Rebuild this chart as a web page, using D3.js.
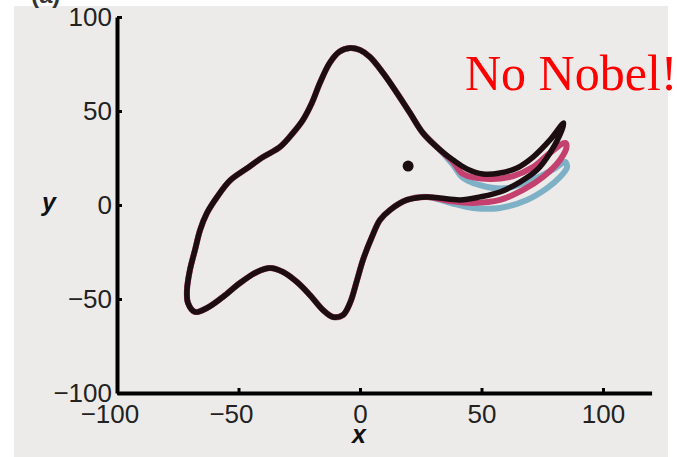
<!DOCTYPE html>
<html>
<head>
<meta charset="utf-8">
<script src="https://cdn.jsdelivr.net/npm/d3@7"></script>
<style>
  body { margin: 0; background: #fff; }
  .tick text { font-family: "Liberation Sans", Arial, sans-serif; font-size: 26px; fill: #222; }
</style>
</head>
<body>
<div id="chart"></div>
<script>
// elephant outline (x, y in data units)
// head -> back -> legs -> belly, shared by every trunk position
const body = [
  [25.9, 38.3], [20.6, 48.9], [15.2, 59.6], [9.5, 70.2], [4.1, 78.7], [0, 82.4],
  [-4.1, 83.5], [-8.5, 81.5], [-12.5, 75.5], [-16.5, 64.9], [-19.8, 54.3],
  [-23.5, 45.2], [-27.6, 38.3], [-32.9, 30.9], [-39.9, 25.5], [-46.5, 19.5],
  [-53.5, 13.0], [-58.8, 4.3], [-63.0, -4.3], [-65.8, -13.3], [-67.9, -23.9],
  [-70.0, -34.6], [-71.2, -45.2], [-70.8, -52.1], [-67.9, -56.9], [-63.0, -54.8],
  [-56.4, -48.9], [-49.4, -41.5], [-42.4, -35.6], [-37.0, -33.5], [-31.7, -35.6],
  [-25.9, -41.0], [-20.6, -47.9], [-15.2, -55.9], [-11.1, -59.6], [-7.0, -58.5],
  [-4.1, -52.1], [-1.2, -39.9], [1.2, -29.3], [4.9, -17.0], [8.2, -8.0],
  [12.3, -2.7], [19.3, 2.7], [27.6, 4.3]
];

// trunk positions: lower edge out to the tip, upper edge back to the head
const trunkBlack = [
  [32.9, 3.7], [41.2, 2.7], [49.4, 4.3], [57.6, 6.9], [65.8, 12.2], [72.8, 18.6],
  [78.2, 27.7], [83.1, 39.9], [83.8, 43.6],
  [78.2, 34.6], [71.2, 25.5], [64.6, 19.7], [57.6, 17.0], [50.6, 16.5],
  [44.0, 19.2], [38.3, 23.9], [32.9, 29.3]
];
const trunkPink = [
  [37.0, 2.1], [46.5, 1.1], [57.6, 2.7], [67.1, 8.0], [75.3, 14.9], [82.3, 23.9],
  [85.0, 31.0], [84.4, 33.0],
  [78.2, 27.7], [71.2, 20.2], [63.0, 15.4], [53.5, 13.8], [42.4, 16.5],
  [38.3, 22.9], [32.9, 29.3]
];
const trunkBlue = [
  [39.1, 0.5], [46.5, -1.6], [57.6, -1.6], [68.7, 2.7], [77.0, 9.0], [82.3, 14.9],
  [85.2, 20.2], [84.4, 22.9],
  [80.2, 19.5], [72.0, 14.0], [60.5, 9.0], [52.3, 9.6], [42.4, 14.4],
  [38.3, 21.3], [32.9, 29.3]
];

const eye = [19.8, 20.7];

const xTicks = [-100, -50, 0, 50, 100];
const yTicks = [-100, -50, 0, 50, 100];

const w = 677, h = 457;

const x = d3.scaleLinear().domain([-100, 120]).range([117, 651.6]);
const y = d3.scaleLinear().domain([-100, 100]).range([393, 17]);

const svg = d3.select("#chart").append("svg")
  .attr("width", w)
  .attr("height", h);

svg.append("rect")
  .attr("x", 14).attr("y", 6)
  .attr("width", 654).attr("height", h - 6)
  .attr("fill", "#ecebea");

// panel letter, cut by the top edge
svg.append("text")
  .attr("x", 31).attr("y", 3)
  .attr("font-family", "Liberation Sans, Arial, sans-serif")
  .attr("font-size", 24)
  .attr("font-weight", "bold")
  .attr("fill", "#333")
  .text("(a)");

const line = d3.line()
  .x(d => x(d[0]))
  .y(d => y(d[1]))
  .curve(d3.curveCatmullRomClosed.alpha(0.5));

const outlines = [
  { trunk: trunkBlue, color: "#7fb1c6", width: 6 },
  { trunk: trunkPink, color: "#c3406f", width: 6 },
  { trunk: trunkBlack, color: "#1c0d10", width: 5.5 }
];

svg.selectAll("path.elephant")
  .data(outlines)
  .enter()
  .append("path")
  .attr("class", "elephant")
  .attr("d", d => line(d.trunk.concat(body)))
  .attr("fill", "none")
  .attr("stroke", d => d.color)
  .attr("stroke-width", d => d.width)
  .attr("stroke-linejoin", "round");

svg.append("circle")
  .attr("cx", x(eye[0]))
  .attr("cy", y(eye[1]))
  .attr("r", 5.5)
  .attr("fill", "#1c0d10");

// axes
const fmt = d3.format("d");

const xAxis = d3.axisBottom(x)
  .tickValues(xTicks)
  .tickFormat(fmt)
  .tickSizeInner(-5)
  .tickSizeOuter(0)
  .tickPadding(12);

const yAxis = d3.axisLeft(y)
  .tickValues(yTicks)
  .tickFormat(fmt)
  .tickSizeInner(-5)
  .tickSizeOuter(0)
  .tickPadding(5);

const gx = svg.append("g")
  .attr("transform", `translate(0, ${y(-100)})`)
  .call(xAxis);

const gy = svg.append("g")
  .attr("transform", `translate(${x(-100)}, 0)`)
  .call(yAxis);

[gx, gy].forEach(g => {
  g.select(".domain").attr("stroke", "#000").attr("stroke-width", 4);
  g.selectAll(".tick line").attr("stroke", "#000").attr("stroke-width", 3);
});

// digits sit on the tick, minus sign hangs to the left
gx.selectAll(".tick text")
  .attr("dx", d => d < 0 ? "-0.29em" : 0);

svg.append("text")
  .attr("x", 49).attr("y", 211)
  .attr("text-anchor", "middle")
  .attr("font-family", "Liberation Sans, Arial, sans-serif")
  .attr("font-size", 25)
  .attr("font-weight", "bold")
  .attr("font-style", "italic")
  .attr("fill", "#111")
  .text("y");

svg.append("text")
  .attr("x", 359).attr("y", 443)
  .attr("text-anchor", "middle")
  .attr("font-family", "Liberation Sans, Arial, sans-serif")
  .attr("font-size", 25)
  .attr("font-weight", "bold")
  .attr("font-style", "italic")
  .attr("fill", "#111")
  .text("x");

svg.append("text")
  .attr("x", 465).attr("y", 90)
  .attr("font-family", "Liberation Serif, 'Times New Roman', serif")
  .attr("font-size", 50)
  .attr("fill", "#ff0000")
  .text("No Nobel!");
</script>
</body>
</html>
